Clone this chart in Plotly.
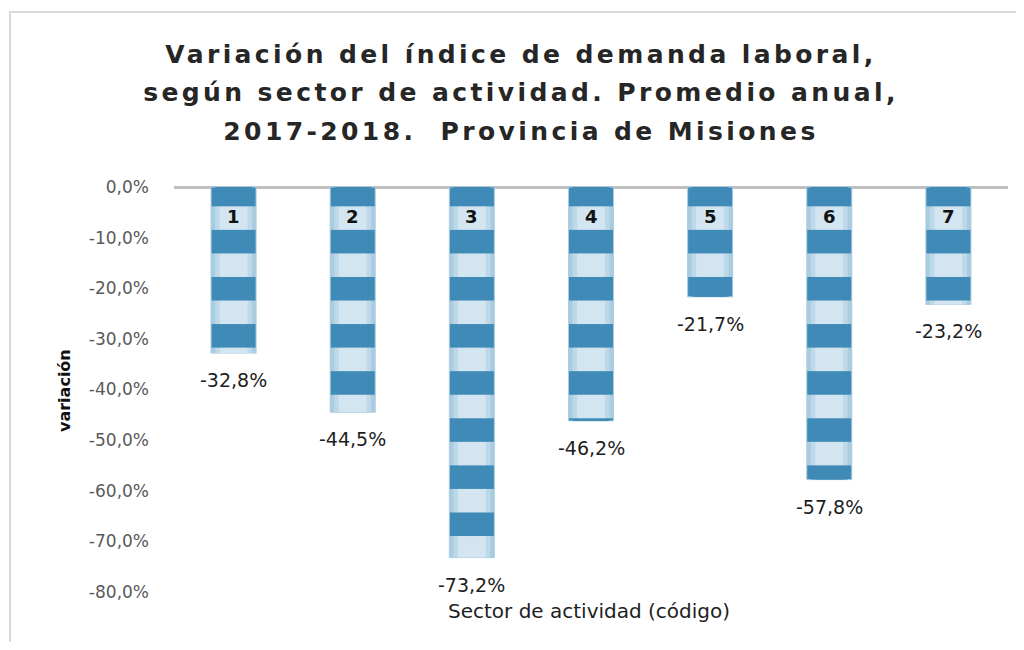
import plotly.graph_objects as go

sectores = ["1", "2", "3", "4", "5", "6", "7"]
variacion = [-32.8, -44.5, -73.2, -46.2, -21.7, -57.8, -23.2]
y_ticks = [0, -10, -20, -30, -40, -50, -60, -70, -80]
titulo_lineas = [
    "Variación del índice de demanda laboral,",
    "según sector de actividad. Promedio anual,",
    "2017-2018.  Provincia de Misiones",
]
titulo_y = "variación"
titulo_x = "Sector de actividad (código)"


def fmt(v):
    return f"{v:.1f}%".replace(".", ",")


# page has an 8px body margin: figure coordinates = page coordinates - 8
OFF = 8
W, H = 1024 - OFF, 650 - 2 * OFF
L = 174 - OFF
R = W - (1008 - OFF)
T = 171 - OFF
B = H - (592 - OFF)
pw, ph = W - L - R, H - T - B


def px_x(p):  # page x -> paper
    return (p - OFF - L) / pw


def px_y(p):  # page y -> paper
    return (H - B - (p - OFF)) / ph


DARK = "#3f8ab6"
BAR_W = 0.378
# stepped horizontal shading of the light bands (edge -> centre)
capas = [(1.0, "#a9cce1"), (0.82, "#bdd8e8"), (0.62, "#d2e5f0")]

fig = go.Figure()
for k, (frac, light) in enumerate(capas):
    fig.add_trace(go.Bar(
        x=sectores,
        y=variacion,
        width=BAR_W * frac,
        marker=dict(
            color=DARK,
            line=dict(color="#a9cde2", width=1 if k == 0 else 0),
            pattern=dict(shape="-", size=47.1, solidity=0.5,
                         fgcolor=DARK, bgcolor=light, fillmode="replace"),
        ),
        hoverinfo="skip",
    ))

ann = []
for i, (s, v) in enumerate(zip(sectores, variacion)):
    ann.append(dict(x=i, y=0, xref="x", yref="y", text=s, showarrow=False,
                    xanchor="center", yanchor="middle", yshift=-29,
                    font=dict(family="DejaVu Sans", size=18, color="#111111", weight="bold")))
    ann.append(dict(x=i, y=v, xref="x", yref="y", text=fmt(v), showarrow=False,
                    xanchor="center", yanchor="middle", yshift=-27,
                    font=dict(family="DejaVu Sans", size=19, color="#1e1e1e")))

ann.append(dict(x=px_x(64), y=px_y(390), xref="paper", yref="paper",
                text=titulo_y, textangle=-90, showarrow=False,
                xanchor="center", yanchor="middle",
                font=dict(family="DejaVu Sans", size=16, color="#111111", weight="bold")))
ann.append(dict(x=px_x(589), y=px_y(611), xref="paper", yref="paper",
                text=titulo_x, showarrow=False, xanchor="center", yanchor="middle",
                font=dict(family="DejaVu Sans", size=20, color="#1e1e1e")))

ls = "letter-spacing:3.4px"
title_text = "<br>".join(f'<span style="font-size:25px;{ls}">{t}</span>' for t in titulo_lineas)

frame_xl = px_x(10)
frame_xr = px_x(1030)
frame_yt = px_y(12)
frame_yb = px_y(660)

ymax = ph / 5.0625 - 80

fig.update_layout(
    width=W, height=H,
    margin=dict(l=L, r=R, t=T, b=B, pad=0),
    paper_bgcolor="white", plot_bgcolor="white",
    showlegend=False,
    barmode="overlay",
    title=dict(text=title_text, x=513 / W, xanchor="center", y=1 - 55 / H, yanchor="top",
               xref="container", yref="container",
               font=dict(family="DejaVu Sans", size=29.6, color="#262626", weight="bold")),
    xaxis=dict(type="category", showticklabels=False, showgrid=False, showline=False,
               ticks="", zeroline=False),
    yaxis=dict(range=[-80, ymax], tickmode="array", tickvals=y_ticks,
               ticktext=[fmt(v) for v in y_ticks],
               showgrid=False, showline=False, ticks="",
               zeroline=True, zerolinecolor="#bfbfbf", zerolinewidth=3,
               ticklabelstandoff=24,
               tickfont=dict(family="DejaVu Sans", size=17, color="#595959")),
    annotations=ann,
    shapes=[dict(type="path", xref="paper", yref="paper",
                 path=f"M{frame_xl},{frame_yb} L{frame_xl},{frame_yt} L{frame_xr},{frame_yt}",
                 line=dict(color="#d9d9d9", width=2))],
)

fig.write_html("out.html")
